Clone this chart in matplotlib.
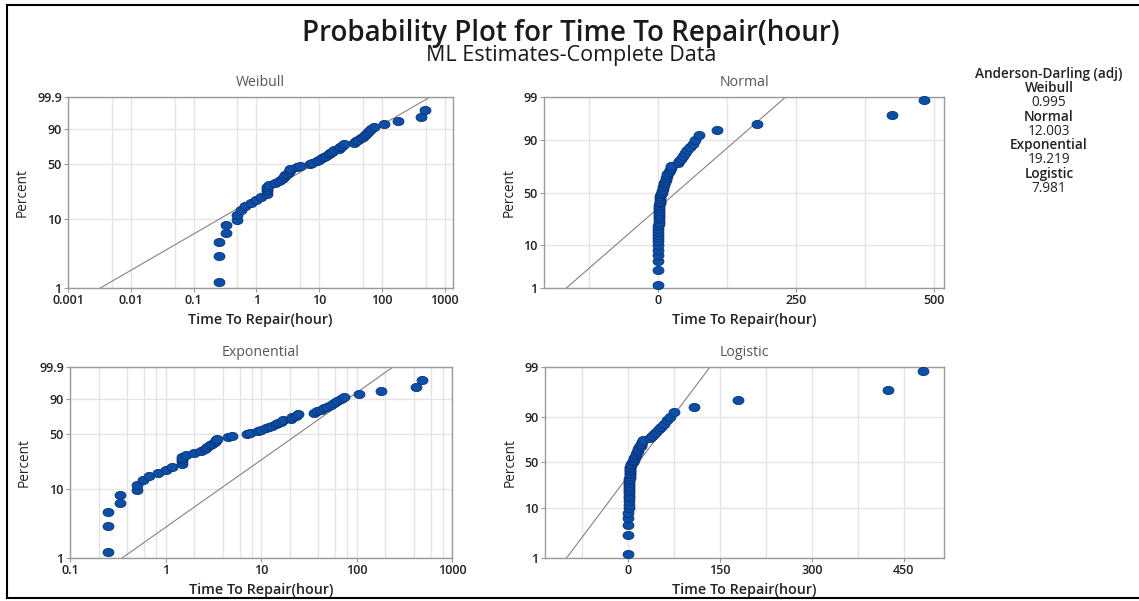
import numpy as np
import matplotlib
matplotlib.use("Agg")
import matplotlib.pyplot as plt
from matplotlib.path import Path
from matplotlib.transforms import Affine2D
from matplotlib.lines import Line2D
from statistics import NormalDist

plt.rcParams['font.family'] = ['Open Sans', 'DejaVu Sans']

# repair times (hours), sorted
repair_time = [0.25, 0.25, 0.25, 0.33, 0.33, 0.5, 0.5, 0.58, 0.67, 0.83, 1.0, 1.17,
               1.5, 1.5, 1.5, 1.5, 1.62, 2.0, 2.33, 2.58, 2.73, 2.9, 3.1, 3.3, 3.4, 3.5,
               4.5, 5.0, 7.2, 7.6, 9.4, 10.1, 11.2, 12.1, 13.1, 14.3, 15.2, 16.1, 17.0,
               20.5, 21.3, 23.0, 24.5, 36, 39, 42, 46, 49.5, 53.5, 58, 63, 68, 74,
               107, 180, 424, 481]

# fitted ML parameters
weibull_shape = 0.54
weibull_scale = 16.4
normal_mean = 33.0
normal_sd = 85.3
exp_mean = 34.9
logistic_loc = 16.4
logistic_scale = 25.5

ad_names = ['Weibull', 'Normal', 'Exponential', 'Logistic']
ad_values = ['0.995', '12.003', '19.219', '7.981']

x = np.array(sorted(repair_time))
n = len(x)
pct = 100 * (np.arange(1, n + 1) - 0.3) / (n + 0.4)

nd = NormalDist()
_ppf = np.vectorize(nd.inv_cdf, otypes=[float])
_cdf = np.vectorize(nd.cdf, otypes=[float])


def clipp(p):
    return np.clip(np.asarray(p, dtype=float), 1e-7, 100 - 1e-7) / 100


def wb_fwd(p):
    return np.log(-np.log(1 - clipp(p)))


def wb_inv(t):
    return 100 * (1 - np.exp(-np.exp(np.asarray(t, dtype=float))))


def nm_fwd(p):
    return _ppf(clipp(p))


def nm_inv(z):
    return 100 * _cdf(np.clip(np.asarray(z, dtype=float), -40, 40))


def lg_fwd(p):
    q = clipp(p)
    return np.log(q / (1 - q))


def lg_inv(z):
    return 100 / (1 + np.exp(-np.asarray(z, dtype=float)))


W, H = 1139, 601
fig = plt.figure(figsize=(W / 100, H / 100), dpi=100)


def box(l, r, t, b):
    return [l / W, 1 - b / H, (r - l) / W, (b - t) / H]


dot = Path.unit_circle().transformed(Affine2D().scale(1.0, 0.75))
face = '#0d4ea6'
edge = '#06337a'
linec = '#8d7f80'
gridc = '#e4e4e4'


def style(ax, title):
    ax.set_title(title, fontsize=10.2, color='#555555', pad=8)
    for s in ax.spines.values():
        s.set_color('#9a9a9a')
        s.set_linewidth(1)
    ax.grid(True, color=gridc, lw=1)
    ax.set_axisbelow(True)
    ax.tick_params(axis='both', which='both', length=3, color='#9a9a9a', labelsize=9,
                   labelcolor='#222222', pad=1.5)
    for lab in ax.get_xticklabels() + ax.get_yticklabels():
        lab.set_fontweight('semibold')
    ax.set_xlabel('Time To Repair(hour)', fontsize=10.3, fontweight='semibold', color='#222222', labelpad=4)
    ax.set_ylabel('Percent', fontsize=9.8, color='#222222', labelpad=5)


def points(ax):
    ax.scatter(x, pct, marker=dot, s=62, c=face, edgecolors=edge, linewidths=0.6, zorder=3, clip_on=False)


# Weibull
ax1 = fig.add_axes(box(68, 453, 97, 288))
ax1.set_xscale('log')
ax1.set_yscale('function', functions=(wb_fwd, wb_inv))
xl = np.logspace(-4, 4, 300)
ax1.plot(xl, 100 * (1 - np.exp(-(xl / weibull_scale) ** weibull_shape)), color=linec, lw=0.8)
points(ax1)
ax1.set_xlim(0.001, 1360)
ax1.set_ylim(1, 99.9)
ax1.set_xticks([0.001, 0.01, 0.1, 1, 10, 100, 1000])
ax1.set_xticklabels(['0.001', '0.01', '0.1', '1', '10', '100', '1000'])
ax1.set_xticks([0.005, 0.05, 0.5, 5, 50, 500], minor=True)
ax1.set_xticklabels([], minor=True)
ax1.set_yticks([1, 10, 50, 90, 99.9])
ax1.set_yticklabels(['1', '10', '50', '90', '99.9'])
ax1.set_yticks([], minor=True)
ax1.grid(True, which='minor', axis='x', color=gridc, lw=1)
style(ax1, 'Weibull')

# Normal
ax2 = fig.add_axes(box(544, 944, 97, 288))
ax2.set_yscale('function', functions=(nm_fwd, nm_inv))
xn = np.linspace(-400, 700, 300)
ax2.plot(xn, 100 * _cdf((xn - normal_mean) / normal_sd), color=linec, lw=0.8)
points(ax2)
ax2.set_xlim(-206, 518)
ax2.set_ylim(1, 99)
ax2.set_xticks([0, 250, 500])
ax2.set_xticks([-125, 125, 375], minor=True)
ax2.set_yticks([1, 10, 50, 90, 99])
ax2.set_yticklabels(['1', '10', '50', '90', '99'])
ax2.set_yticks([], minor=True)
ax2.grid(True, which='minor', axis='x', color=gridc, lw=1)
style(ax2, 'Normal')

# Exponential
ax3 = fig.add_axes(box(70, 452, 367, 558))
ax3.set_xscale('log')
ax3.set_yscale('function', functions=(wb_fwd, wb_inv))
ax3.plot(xl, 100 * (1 - np.exp(-xl / exp_mean)), color=linec, lw=0.8)
points(ax3)
ax3.set_xlim(0.1, 1000)
ax3.set_ylim(1, 99.9)
ax3.set_xticks([0.1, 1, 10, 100, 1000])
ax3.set_xticklabels(['0.1', '1', '10', '100', '1000'])
minor_x = [m * d for d in [0.1, 1, 10, 100] for m in [2, 4, 6, 8]]
ax3.set_xticks(minor_x, minor=True)
ax3.set_xticklabels([], minor=True)
ax3.set_yticks([1, 10, 50, 90, 99.9])
ax3.set_yticklabels(['1', '10', '50', '90', '99.9'])
ax3.set_yticks([], minor=True)
ax3.grid(True, which='minor', axis='x', color=gridc, lw=1)
style(ax3, 'Exponential')

# Logistic
ax4 = fig.add_axes(box(545, 944, 367, 558))
ax4.set_yscale('function', functions=(lg_fwd, lg_inv))
ax4.plot(xn, 100 / (1 + np.exp(-(xn - logistic_loc) / logistic_scale)), color=linec, lw=0.8)
points(ax4)
ax4.set_xlim(-136, 516)
ax4.set_ylim(1, 99)
ax4.set_xticks([0, 150, 300, 450])
ax4.set_xticks([-75, 75, 225, 375], minor=True)
ax4.set_yticks([1, 10, 50, 90, 99])
ax4.set_yticklabels(['1', '10', '50', '90', '99'])
ax4.set_yticks([], minor=True)
ax4.grid(True, which='minor', axis='x', color=gridc, lw=1)
style(ax4, 'Logistic')

for ax in [ax1, ax2, ax3, ax4]:
    ax.tick_params(axis='x', which='minor', length=0)

# titles
fig.text(571 / W, 1 - 33 / H, 'Probability Plot for Time To Repair(hour)', ha='center', va='center',
         fontsize=20, fontweight='semibold', color='#1a1a1a')
fig.text(571 / W, 1 - 56 / H, 'ML Estimates-Complete Data', ha='center', va='center',
         fontsize=15.5, color='#1a1a1a')

# Anderson-Darling table
yy = 74
fig.text(1049 / W, 1 - yy / H, 'Anderson-Darling (adj)', ha='center', va='center', fontsize=9.8,
         fontweight='semibold', color='#222222')
for name, val in zip(ad_names, ad_values):
    yy += 14.3
    fig.text(1049 / W, 1 - yy / H, name, ha='center', va='center', fontsize=9.8,
             fontweight='semibold', color='#222222')
    yy += 14.3
    fig.text(1049 / W, 1 - yy / H, val, ha='center', va='center', fontsize=9.8, color='#222222')

# outer frame lines
fig.add_artist(Line2D([7 / W, 1], [1 - 5 / H, 1 - 5 / H], color='black', lw=1.5))
fig.add_artist(Line2D([7 / W, 7 / W], [1 - 5 / H, 1 - 598 / H], color='black', lw=1.5))
fig.add_artist(Line2D([7 / W, 1], [1 - 598 / H, 1 - 598 / H], color='black', lw=1.5))

fig.savefig('out.png', dpi=100)
